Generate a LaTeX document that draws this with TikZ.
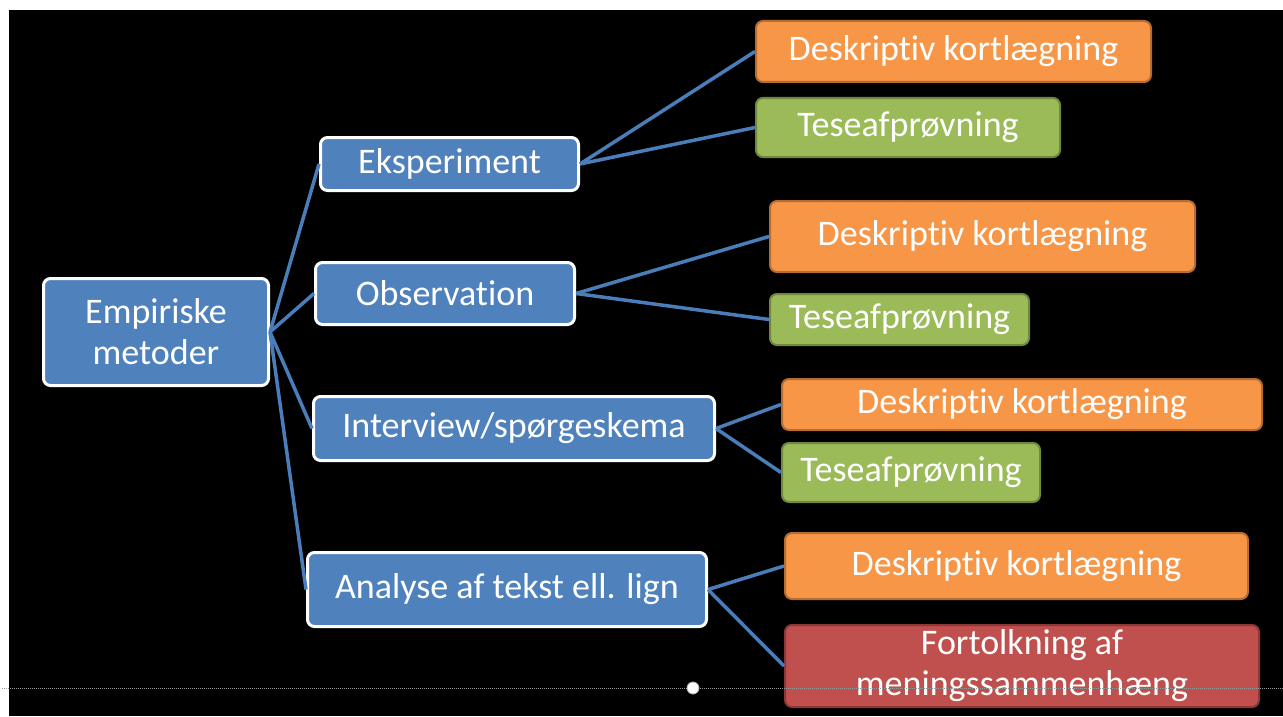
\documentclass[tikz,border=0pt]{standalone}
\usepackage{fontspec}
\setmainfont{Carlito}[Ligatures=NoCommon]
\usepackage{tikz}
\usepackage{color}

\definecolor{boxblue}{HTML}{4F81BD}
\definecolor{lineblue}{HTML}{4A7EBB}
\definecolor{boxorange}{HTML}{F79646}
\definecolor{orangeedge}{HTML}{B66D31}
\definecolor{boxgreen}{HTML}{9BBB59}
\definecolor{greenedge}{HTML}{71893F}
\definecolor{boxred}{HTML}{C0504D}
\definecolor{rededge}{HTML}{8C3836}

\begin{document}
\begin{tikzpicture}[x=1pt,y=-1pt,
  box/.style={rounded corners=7pt, text=white, align=center, inner sep=0pt,
    font=\fontsize{36}{41}\selectfont},
  main/.style={box, fill=boxblue, draw=white, line width=3pt},
  desk/.style={box, fill=boxorange, draw=orangeedge, line width=2pt},
  tese/.style={box, fill=boxgreen, draw=greenedge, line width=2pt},
  tolk/.style={box, fill=boxred, draw=rededge, line width=2pt},
  link/.style={draw=lineblue, line width=3.5pt}]
  \useasboundingbox (0,0) rectangle (1283,717);
  \fill [black] (9,10) rectangle (1283,716);

  % main branch
  \node [main, minimum width=225pt, minimum height=107pt] (em) at (156,332) {Empiriske\\metoder};
  \node [main, minimum width=258pt, minimum height=53pt] (ek) at (449.5,164) {Eksperiment};
  \node [main, minimum width=259pt, minimum height=62pt] (ob) at (445,293.5) {Observation};
  \node [main, minimum width=401pt, minimum height=64pt] (iv) at (514,428.5) {Interview/spørgeskema};
  \node [main, minimum width=399pt, minimum height=74pt] (an) at (507,589.5) {Analyse af tekst ell. lign};

  % leaves
  \node [desk, minimum width=395pt, minimum height=61pt] (ekd) at (953.5,51.5) {Deskriptiv kortlægning};
  \node [tese, minimum width=304pt, minimum height=59pt] (ekt) at (908,127.5) {Teseafprøvning};
  \node [desk, minimum width=425pt, minimum height=71pt] (obd) at (982.5,236.5) {Deskriptiv kortlægning};
  \node [tese, minimum width=259pt, minimum height=51pt] (obt) at (899.5,319.5) {Teseafprøvning};
  \node [desk, minimum width=480pt, minimum height=51pt] (ivd) at (1022,404.5) {Deskriptiv kortlægning};
  \node [tese, minimum width=258pt, minimum height=59pt] (ivt) at (911,472.5) {Teseafprøvning};
  \node [desk, minimum width=463pt, minimum height=66pt] (and) at (1016.5,566) {Deskriptiv kortlægning};
  \node [tolk, minimum width=474pt, minimum height=82pt] (ant) at (1022,666) {Fortolkning af\\meningssammenhæng};

  % connectors
  \draw [link] (em.east) -- (ek.west);
  \draw [link] (em.east) -- (ob.west);
  \draw [link] (em.east) -- (iv.west);
  \draw [link] (em.east) -- (an.west);
  \draw [link] (ek.east) -- (ekd.west);
  \draw [link] (ek.east) -- (ekt.west);
  \draw [link] (ob.east) -- (obd.west);
  \draw [link] (ob.east) -- (obt.west);
  \draw [link] (iv.east) -- (ivd.west);
  \draw [link] (iv.east) -- (ivt.west);
  \draw [link] (an.east) -- (and.west);
  \draw [link] (an.east) -- (ant.west);

  % guide line
  \coordinate (gl) at (2,688);
  \coordinate (gr) at (1283,688);
  \draw [gray!80, densely dotted, line width=1pt] (gl) -- (gr);
  \node [circle, fill=white, draw=gray!60, line width=0.8pt, minimum size=12pt, inner sep=0pt] (gh) at (693,688) {};
\end{tikzpicture}
\end{document}
